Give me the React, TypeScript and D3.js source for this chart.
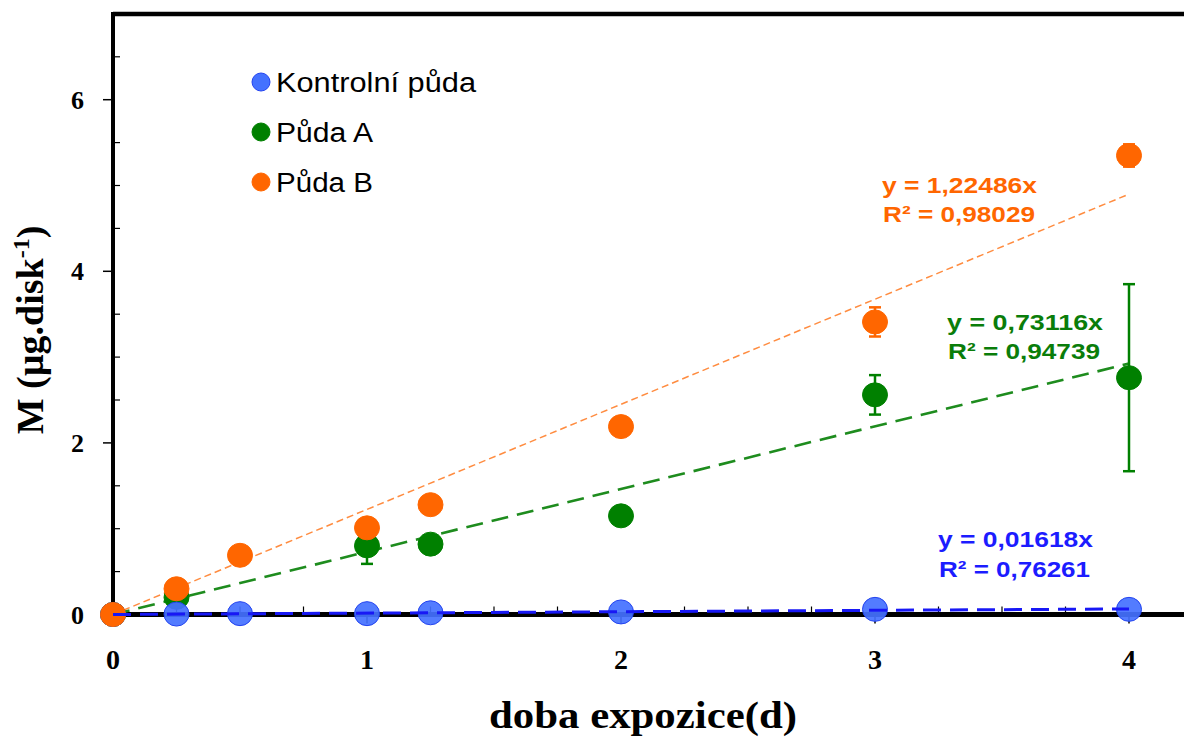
import React from 'react';
import * as d3 from 'd3';

// ---- data ----
const daysK = [0, 0.25, 0.5, 1, 1.25, 2, 3, 4];
const valuesK = [0, 0.005, 0.01, 0.01, 0.02, 0.03, 0.06, 0.06];
const errK = [0, 0, 0, 0, 0, 0, 0, 0];

const daysA = [0, 0.25, 1, 1.25, 2, 3, 4];
const valuesA = [0, 0.2, 0.8, 0.82, 1.15, 2.56, 2.76];
const errA = [0, 0.03, 0.21, 0.05, 0.05, 0.23, 1.09];

const daysB = [0, 0.25, 0.5, 1, 1.25, 2, 3, 4];
const valuesB = [0, 0.3, 0.69, 1.01, 1.28, 2.19, 3.41, 5.35];
const errB = [0, 0.03, 0.05, 0.05, 0.05, 0.05, 0.17, 0.13];

const seriesNames = ['Kontrolní půda', 'Půda A', 'Půda B'];
const slopes = [0.01618, 0.73116, 1.22486];
const eqTexts = ['y = 0,01618x', 'y = 0,73116x', 'y = 1,22486x'];
const r2Texts = ['R² = 0,76261', 'R² = 0,94739', 'R² = 0,98029'];

const xMajorTicks = [0, 1, 2, 3, 4];
const yMajorTicks = [0, 2, 4, 6];
const xTitle = 'doba expozice(d)';

const W = 1184;
const H = 742;

export default function App() {
  const x = d3.scaleLinear().domain([0, 4.25]).range([113, 113 + 4.25 * 254]);
  const y = d3.scaleLinear().domain([0, 7]).range([614.5, 614.5 - 7 * 85.8]);

  const xMinor = d3.range(0, 4.01, 0.25).filter((v) => Math.abs(v - Math.round(v)) > 1e-6);
  const yMinor = d3.range(0.5, 7, 0.5).filter((v) => Math.abs(v % 2) > 1e-6);

  const series = [
    { days: daysK, vals: valuesK, err: errK, fill: '#4471FF', stroke: '#2343F0', lineColor: '#1818F5', eqColor: '#1c1cff', dash: '18,9', lw: 3, opacity: 0.92 },
    { days: daysA, vals: valuesA, err: errA, fill: '#008000', stroke: '#008000', lineColor: '#1E8C1E', eqColor: '#0A7D0A', dash: '17,9', lw: 2.6, opacity: 1 },
    { days: daysB, vals: valuesB, err: errB, fill: '#FF6600', stroke: '#FF6600', lineColor: '#FF8C40', eqColor: '#FF6600', dash: '7,4', lw: 1.5, opacity: 1 },
  ];

  const eqPos = [
    { x: 938, y1: 547, y2: 577, w1: 155, w2: 151 },
    { x: 947, y1: 330, y2: 359, w1: 156, w2: 152 },
    { x: 882, y1: 193, y2: 222, w1: 155, w2: 152 },
  ];

  const legendY = [82, 132, 182];
  const legendW = [200, 97, 97];

  const line = d3.line<[number, number]>().x((d) => x(d[0])).y((d) => y(d[1]));

  const renderTrend = (i: number) => {
    const s = series[i];
    return (
      <path
        key={'t' + i}
        d={line([[0, 0], [4, slopes[i] * 4]]) || ''}
        fill="none"
        stroke={s.lineColor}
        strokeWidth={s.lw}
        strokeDasharray={s.dash}
      />
    );
  };

  return (
    <svg width={W} height={H} style={{ position: 'absolute', left: 0, top: 0, background: '#fff' }}>
      <rect x={0} y={0} width={W} height={H} fill="#fff" />

      {/* axes frame */}
      <line x1={113} x2={W} y1={14} y2={14} stroke="#000" strokeWidth={4.5} />
      <line x1={113} x2={113} y1={12} y2={617} stroke="#000" strokeWidth={4} />
      <line x1={111} x2={W} y1={y(0)} y2={y(0)} stroke="#000" strokeWidth={5} />

      {/* y ticks */}
      {yMajorTicks.map((t) => (
        <g key={'ym' + t}>
          <line x1={103} x2={113} y1={y(t)} y2={y(t)} stroke="#000" strokeWidth={1.5} />
          <text
            x={84}
            y={y(t) + 9}
            textAnchor="end"
            fontFamily="'Liberation Serif', 'Times New Roman', serif"
            fontWeight="bold"
            fontSize={26}
          >
            {t}
          </text>
        </g>
      ))}
      {yMinor.map((t) => (
        <line key={'yn' + t} x1={113} x2={120} y1={y(t)} y2={y(t)} stroke="#000" strokeWidth={1.2} />
      ))}

      {/* x ticks */}
      {xMajorTicks.map((t) => (
        <g key={'xm' + t}>
          <line x1={x(t)} x2={x(t)} y1={y(0)} y2={y(0) + 9} stroke="#000" strokeWidth={1.5} />
          <text
            x={x(t)}
            y={669}
            textAnchor="middle"
            fontFamily="'Liberation Serif', 'Times New Roman', serif"
            fontWeight="bold"
            fontSize={28}
          >
            {t}
          </text>
        </g>
      ))}
      {xMinor.map((t) => (
        <line key={'xn' + t} x1={x(t)} x2={x(t)} y1={y(0) - 8} y2={y(0)} stroke="#000" strokeWidth={1.2} />
      ))}

      {/* trend lines A, B (below markers) */}
      {renderTrend(1)}
      {renderTrend(2)}

      {/* error bars + markers */}
      {[1, 0, 2].map((si) => {
        const s = series[si];
        return (
          <g key={'s' + si}>
            {s.days.map((d, j) =>
              s.err[j] > 0 ? (
                <g key={'e' + j} stroke={s.fill} strokeWidth={2.5}>
                  <line x1={x(d)} x2={x(d)} y1={y(s.vals[j] - s.err[j])} y2={y(s.vals[j] + s.err[j])} />
                  <line x1={x(d) - 6} x2={x(d) + 6} y1={y(s.vals[j] - s.err[j])} y2={y(s.vals[j] - s.err[j])} />
                  <line x1={x(d) - 6} x2={x(d) + 6} y1={y(s.vals[j] + s.err[j])} y2={y(s.vals[j] + s.err[j])} />
                </g>
              ) : null
            )}
            {s.days.map((d, j) => (
              <ellipse
                key={'m' + j}
                cx={x(d)}
                cy={y(s.vals[j])}
                rx={12.5}
                ry={12}
                fill={s.fill}
                fillOpacity={s.opacity}
                stroke={s.stroke}
                strokeWidth={1}
              />
            ))}
          </g>
        );
      })}

      {/* blue trend line on top */}
      {renderTrend(0)}

      {/* axis titles */}
      <text
        x={643}
        y={728}
        textAnchor="middle"
        fontFamily="'Liberation Serif', 'Times New Roman', serif"
        fontWeight="bold"
        fontSize={38}
        textLength={308}
        lengthAdjust="spacingAndGlyphs"
      >
        {xTitle}
      </text>
      <text
        transform="translate(43,330) rotate(-90)"
        textAnchor="middle"
        fontFamily="'Liberation Serif', 'Times New Roman', serif"
        fontWeight="bold"
        fontSize={38}
      >
        M (µg.disk
        <tspan fontSize={24} dy={-14}>-1</tspan>
        <tspan dy={14}>)</tspan>
      </text>

      {/* legend */}
      {seriesNames.map((n, i) => (
        <g key={'lg' + i}>
          <ellipse cx={261} cy={legendY[i]} rx={9} ry={9} fill={series[i].fill} stroke={series[i].stroke} strokeWidth={1} />
          <text
            x={276}
            y={legendY[i] + 10}
            fontFamily="'Liberation Sans', Arial, sans-serif"
            fontSize={27}
            fill="#000"
            textLength={legendW[i]}
            lengthAdjust="spacingAndGlyphs"
          >
            {n}
          </text>
        </g>
      ))}

      {/* equations */}
      {eqPos.map((p, i) => (
        <g key={'eq' + i} fill={series[i].eqColor} fontFamily="'Liberation Sans', Arial, sans-serif" fontWeight="bold" fontSize={22}>
          <text x={p.x} y={p.y1} textLength={p.w1} lengthAdjust="spacingAndGlyphs">
            {eqTexts[i]}
          </text>
          <text x={p.x + 1} y={p.y2} textLength={p.w2} lengthAdjust="spacingAndGlyphs">
            {r2Texts[i]}
          </text>
        </g>
      ))}
    </svg>
  );
}
